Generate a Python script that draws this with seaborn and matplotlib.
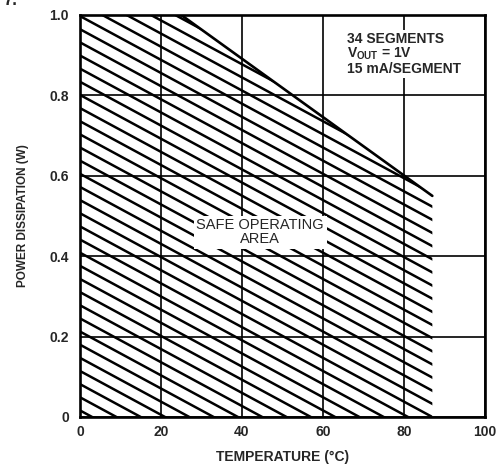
import numpy as np
import pandas as pd
import matplotlib
matplotlib.use("Agg")
import matplotlib.pyplot as plt
from matplotlib.patches import Polygon
import seaborn as sns

# ---- data ----
temperature = [0, 25, 87]          # °C
power_limit = [1.0, 1.0, 0.55]     # W
x_ticks = [0, 20, 40, 60, 80, 100]
y_ticks = [0, 0.2, 0.4, 0.6, 0.8, 1.0]
y_tick_labels = ["0", "0.2", "0.4", "0.6", "0.8", "1.0"]
note_lines = ["34 SEGMENTS", "V$_{\\mathrm{OUT}}$ = 1V", "15 mA/SEGMENT"]
area_label = "SAFE OPERATING\nAREA"

df = pd.DataFrame({"temperature": temperature, "power": power_limit})

sns.set_style("white")
plt.rcParams["font.family"] = ["Liberation Sans", "DejaVu Sans"]
plt.rcParams["mathtext.fontset"] = "custom"
plt.rcParams["mathtext.rm"] = "Liberation Sans:bold"

fig = plt.figure(figsize=(4.96, 4.73), dpi=100)
ax = fig.add_axes([0.1613, 0.1184, 0.8165, 0.8499])

ax.set_xlim(0, 100)
ax.set_ylim(0, 1.0)

# safe operating area polygon (used as clip for hatch)
poly_pts = np.column_stack([temperature + [temperature[-1], temperature[0]],
                            power_limit + [0, 0]])
area = Polygon(poly_pts, closed=True, facecolor="none", edgecolor="none",
               transform=ax.transData)
ax.add_patch(area)

# diagonal hatch lines (decoration), clipped to the area
slope = -0.00545
step = 6.0
for x0 in np.arange(-3, 290, step):
    xs = np.array([x0 - 200, x0 + 10])
    ys = slope * (xs - x0)
    ln, = ax.plot(xs, ys, color="black", lw=1.8, solid_capstyle="butt", zorder=3)
    ln.set_clip_path(area)

# boundary line
sns.lineplot(data=df.iloc[1:], x="temperature", y="power", color="black",
             lw=1.9, ax=ax, zorder=4)

ax.set_xticks(x_ticks)
ax.set_yticks(y_ticks)
ax.set_yticklabels(y_tick_labels)
ax.grid(True, color="black", lw=1.2)
ax.set_axisbelow(True)
ax.tick_params(length=0, labelsize=10)
ax.tick_params(axis="y", pad=8)
ax.tick_params(axis="x", pad=6)
for lab in ax.get_xticklabels() + ax.get_yticklabels():
    lab.set_fontweight("bold")
for sp in ax.spines.values():
    sp.set_visible(True)
    sp.set_color("black")
    sp.set_linewidth(1.9)
    sp.set_zorder(6)

ax.set_xlabel("TEMPERATURE (°C)", fontsize=10, fontweight="semibold", labelpad=8)
ax.set_ylabel("POWER DISSIPATION (W)", fontsize=8.5, fontweight="semibold", labelpad=15)

ax.text(66, 0.957, "\n".join(note_lines), ha="left", va="top", fontsize=10,
        fontweight="bold", linespacing=0.98, zorder=5,
        bbox=dict(facecolor="white", edgecolor="none", pad=1.5))

ax.text(44.5, 0.46, area_label, ha="center", va="center", fontsize=10.5,
        linespacing=0.95, zorder=5,
        bbox=dict(facecolor="white", edgecolor="none", pad=2.0))

fig.text(0.006, 0.998, "7.", fontsize=12, fontweight="bold", ha="left", va="center")

fig.savefig("out.png", dpi=100)
